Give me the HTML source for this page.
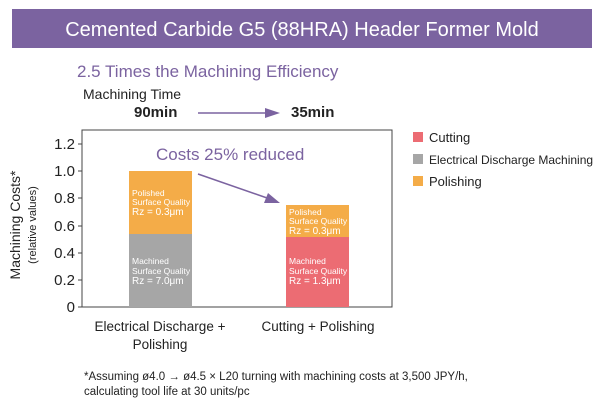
<!DOCTYPE html><html><head><meta charset="utf-8"><style>body{margin:0;background:#fff}svg{display:block}text{font-family:"Liberation Sans",sans-serif}</style></head><body>
<svg width="600" height="400" viewBox="0 0 600 400">
<rect x="12" y="9" width="580" height="39" fill="#7b63a0"/>
<text x="302" y="36" fill="#fff" font-size="20" text-anchor="middle">Cemented Carbide G5 (88HRA) Header Former Mold</text>
<text x="77" y="77" fill="#7b63a0" font-size="17">2.5 Times the Machining Efficiency</text>
<text x="83" y="99" fill="#222" font-size="14">Machining Time</text>
<text x="134" y="117" fill="#222" font-size="15" font-weight="bold">90min</text>
<text x="291" y="117" fill="#222" font-size="15" font-weight="bold">35min</text>
<line x1="198" y1="113" x2="268" y2="113" stroke="#7b63a0" stroke-width="1.5"/>
<polygon points="280,113 265,108 265,118" fill="#7b63a0"/>
<rect x="82" y="130" width="310" height="177" fill="none" stroke="#444" stroke-width="1"/>
<g font-size="15" fill="#222" text-anchor="end">
<text x="75" y="312">0</text><text x="75" y="285">0.2</text><text x="75" y="258">0.4</text><text x="75" y="231">0.6</text><text x="75" y="203">0.8</text><text x="75" y="176">1.0</text><text x="75" y="149">1.2</text></g>
<g stroke="#444"><line x1="78" y1="307" x2="82" y2="307"/><line x1="78" y1="280" x2="82" y2="280"/><line x1="78" y1="253" x2="82" y2="253"/><line x1="78" y1="226" x2="82" y2="226"/><line x1="78" y1="198" x2="82" y2="198"/><line x1="78" y1="171" x2="82" y2="171"/><line x1="78" y1="144" x2="82" y2="144"/></g>
<rect x="129" y="171" width="63" height="63" fill="#f4ac48"/>
<rect x="129" y="234" width="63" height="73" fill="#a6a6a6"/>
<rect x="286" y="205" width="63" height="32" fill="#f4ac48"/>
<rect x="286" y="237" width="63" height="70" fill="#ec6c73"/>
<g font-size="8.5" fill="#fff">
<text x="132" y="196">Polished</text><text x="132" y="205">Surface Quality</text><text x="132" y="215" font-size="10">Rz = 0.3μm</text>
<text x="132" y="264">Machined</text><text x="132" y="274">Surface Quality</text><text x="132" y="284" font-size="10">Rz = 7.0μm</text>
<text x="289" y="215">Polished</text><text x="289" y="224">Surface Quality</text><text x="289" y="234" font-size="10">Rz = 0.3μm</text>
<text x="289" y="264">Machined</text><text x="289" y="274">Surface Quality</text><text x="289" y="284" font-size="10">Rz = 1.3μm</text></g>
<text x="156" y="160" fill="#7b63a0" font-size="17">Costs 25% reduced</text>
<line x1="198" y1="174" x2="270" y2="199" stroke="#7b63a0" stroke-width="1.5"/>
<polygon points="280,203 264,203 268,193" fill="#7b63a0"/>
<text transform="translate(20,225) rotate(-90)" font-size="14" fill="#222" text-anchor="middle">Machining Costs*</text>
<text transform="translate(36,225) rotate(-90)" font-size="11" fill="#222" text-anchor="middle">(relative values)</text>
<g font-size="13.5" fill="#222" text-anchor="middle">
<text x="160" y="331">Electrical Discharge +</text><text x="160" y="349">Polishing</text>
<text x="318" y="331">Cutting + Polishing</text></g>
<rect x="413" y="132" width="10" height="10" fill="#ec6c73"/>
<rect x="413" y="154" width="10" height="10" fill="#a6a6a6"/>
<rect x="413" y="176" width="10" height="10" fill="#f4ac48"/>
<g font-size="13" fill="#222"><text x="429" y="142">Cutting</text><text x="429" y="164" font-size="12">Electrical Discharge Machining</text><text x="429" y="186">Polishing</text></g>
<g font-size="11.5" fill="#222"><text x="84" y="380">*Assuming ø4.0 → ø4.5 × L20 turning with machining costs at 3,500 JPY/h,</text><text x="84" y="395">calculating tool life at 30 units/pc</text></g>
</svg></body></html>
